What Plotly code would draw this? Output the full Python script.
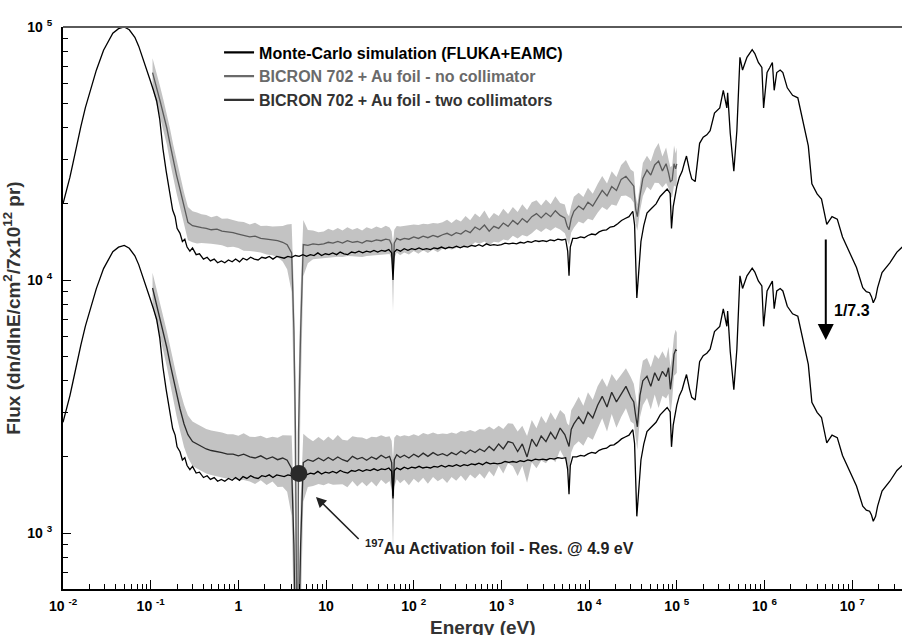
import math
import plotly.graph_objects as go

# ---------------- data ----------------
MC_E = [
    0.01, 0.011, 0.012, 0.013, 0.014, 0.016, 0.018, 0.021, 0.024, 0.029,
    0.033, 0.037, 0.043, 0.05, 0.057, 0.066, 0.073, 0.081, 0.09, 0.098,
    0.107, 0.117, 0.127, 0.138, 0.15, 0.166, 0.178, 0.19, 0.2, 0.216,
    0.23, 0.245, 0.26, 0.28, 0.3, 0.33, 0.36, 0.4, 0.44, 0.48,
    0.53, 0.58, 0.64, 0.7, 0.77, 0.85, 0.93, 1.03, 1.13, 1.25,
    1.38, 1.52, 1.68, 1.85, 2.04, 2.25, 2.48, 2.74, 3.02, 3.33,
    3.67, 4.05, 4.47, 4.93, 5.44, 6.0, 6.62, 7.3, 8.06, 8.89,
    9.81, 10.8, 11.9, 13.2, 14.5, 16.0, 17.7, 19.5, 21.5, 23.7,
    26.2, 28.9, 31.9, 35.2, 38.8, 42.8, 47.2, 52, 56, 58,
    60, 64, 70.5, 77.8, 85.8, 94.6, 104, 115, 127, 140,
    155, 170, 188, 207, 229, 252, 278, 307, 339, 374,
    412, 455, 502, 553, 610, 673, 743, 820, 904, 1000,
    1100, 1220, 1350, 1490, 1640, 1810, 2000, 2200, 2430, 2680,
    2960, 3270, 3600, 4000, 4400, 4900, 5400, 5700, 5900, 6100,
    6500, 7200, 8000, 8800, 9700, 10700, 11800, 13000, 14300, 15800,
    17400, 19200, 21200, 23400, 25800, 28500, 31500, 33000, 35000, 37000,
    39000, 42000, 45700, 50000, 53700, 58000, 64600, 70000, 77600, 84000,
    87000, 91000, 100000, 107000, 115000, 122000, 129000, 140000, 148000, 162000,
    182000, 200000, 220000, 240000, 269000, 309000, 339000, 372000, 380000, 407000,
    447000, 484000, 525000, 562000, 631000, 724000, 776000, 851000, 933000, 977000,
    1.07e6, 1.15e6, 1.23e6, 1.29e6, 1.38e6, 1.51e6, 1.62e6, 1.82e6, 2.09e6, 2.4e6,
    2.75e6, 3.16e6, 3.47e6, 3.98e6, 4.47e6, 5.13e6, 5.89e6, 6.76e6, 7.76e6, 9.33e6,
    1.12e7, 1.32e7, 1.45e7, 1.58e7, 1.66e7, 1.74e7, 1.85e7, 1.95e7, 2.19e7, 2.69e7,
    3.24e7, 3.72e7,
]
MC_FLUX = [
    20000, 22500, 25500, 29000, 33000, 40500, 48000, 57000, 67500, 81000,
    88000, 94500, 98500, 100000, 97500, 91000, 84000, 76000, 68500, 62000,
    56500, 51000, 43000, 33000, 27000, 21400, 18900, 17800, 16000, 15300,
    14200, 14500, 13500, 13000, 13400, 12600, 12700, 12100, 12300, 11900,
    12100, 11700, 11900, 11700, 12000, 11800, 12100, 11800, 12200, 12000,
    12300, 12100, 12000, 12300, 12200, 12400, 12100, 12400, 12300, 12200,
    12400, 12300, 12500, 12400, 12600, 12400, 12600, 12500, 12800, 12500,
    12700, 12600, 12800, 12600, 12900, 12700, 12600, 12900, 12800, 13000,
    12800, 13000, 12900, 13100, 12900, 13100, 13000, 13200, 12800, 10000,
    12900, 13200, 13000, 13300, 13100, 13300, 13200, 13400, 13200, 13300,
    13200, 13400, 13300, 13500, 13300, 13500, 13400, 13600, 13400, 13600,
    13500, 13700, 13600, 13800, 13600, 13900, 13700, 13800, 13700, 13800,
    14000, 13900, 14000, 13900, 14100, 14000, 14200, 14100, 14300, 14200,
    14300, 14200, 14400, 14300, 14500, 14400, 14500, 13000, 10400, 13500,
    14600, 14600, 14800, 14700, 15000, 15200, 15100, 15500, 15700, 15800,
    16200, 16300, 16700, 17200, 17500, 17800, 18700, 16500, 8500, 11500,
    14200, 16400, 18400, 19000, 19500, 20000, 21400, 22000, 22900, 22000,
    16000, 19500, 23400, 25500, 26900, 29000, 30900, 27000, 25100, 24500,
    34700, 36700, 37500, 38900, 45700, 47900, 56200, 47900, 55000, 38000,
    26900, 38900, 75900, 67600, 75900, 81300, 78500, 72400, 69200, 47900,
    66100, 69200, 72400, 56200, 66100, 67600, 66100, 57500, 53700, 52500,
    42700, 33900, 24000, 21900, 20900, 16600, 17800, 17400, 14800, 12900,
    11200, 9330, 9000, 8910, 8600, 8130, 8500, 9330, 10700, 11700,
    12900, 13500,
]
SCALE = 7.3   # lower group = upper group / 7.3

MEAS_E = [
    0.105, 0.115, 0.128, 0.14, 0.153, 0.166, 0.18, 0.197, 0.216, 0.24,
    0.266, 0.3, 0.337, 0.38, 0.43, 0.49, 0.57, 0.65, 0.75, 0.87,
    1.0, 1.15, 1.35, 1.55, 1.8, 2.1, 2.45, 2.8, 3.2, 3.6,
    4.05, 4.3, 4.48, 4.72, 4.85, 5.13, 5.5, 6.2, 7.1, 8.2,
    9.4, 10.6, 12, 13.6, 15.4, 17.5, 20, 22.7, 25.8, 29,
    33, 37.5, 42.5, 48, 53, 56, 58, 60, 64, 70,
    78, 88, 100, 113, 128, 145, 166, 188, 213, 240,
    270, 305, 345, 390, 440, 500, 565, 640, 725, 820,
    930, 1050, 1190, 1350, 1530, 1730, 1960, 2220, 2510, 2840,
    3220, 3640, 4120, 4670, 5280, 5600, 5900, 6250, 6700, 7600,
    8600, 9700, 11000, 12500, 14100, 16000, 18100, 20500, 23200, 26300,
    29800, 32300, 34000, 35500, 38000, 41000, 45700, 50500, 56000, 62000,
    68500, 75500, 80500, 84500, 88500, 93000, 97000, 100000,
]
NOCOLL = [
    66000, 59000, 51000, 45000, 39800, 34500, 30000, 26000, 22800, 19300,
    16900, 16400, 16200, 16100, 16000, 15800, 15900, 15600, 15500, 15400,
    15200, 15000, 14800, 14900, 14600, 14500, 14400, 14300, 14100, 13800,
    12800, 6300, 2500, 150, 2500, 6300, 13800, 13700, 13900, 13800,
    13900, 14100, 14000, 14200, 14000, 14300, 14100, 14200, 14000, 14300,
    14200, 14400, 14300, 14500, 14400, 13800, 10700, 14000, 14600, 14400,
    14600, 14500, 14800, 14600, 14900, 14700, 15000, 14800, 15100, 15300,
    15000, 15400, 15200, 15700, 15400, 16200, 15800, 16500, 15600, 16300,
    16000, 16800, 16300, 17200, 16600, 17500, 16900, 17800, 18300, 17600,
    18400, 17800, 18800, 18000, 17600, 16400, 15800, 17500, 18700, 19600,
    19000, 20300, 19600, 21200, 22600, 21500, 23400, 22600, 25000, 25700,
    24200, 23500, 19000, 17800, 21500, 25200, 27200, 26000, 28500, 29500,
    27000, 28800, 26500, 24500, 24800, 28800, 27500, 28800,
]
NOCOLL_ERR = [
    0.14, 0.14, 0.14, 0.14, 0.14, 0.15, 0.15, 0.15, 0.15, 0.15,
    0.15, 0.14, 0.14, 0.13, 0.13, 0.12, 0.13, 0.12, 0.13, 0.12,
    0.12, 0.13, 0.12, 0.13, 0.12, 0.13, 0.13, 0.14, 0.16, 0.2,
    0.3, 0.45, 0.6, 0.6, 0.6, 0.45, 0.25, 0.15, 0.13, 0.12,
    0.12, 0.13, 0.12, 0.13, 0.12, 0.13, 0.12, 0.13, 0.12, 0.13,
    0.12, 0.13, 0.12, 0.13, 0.12, 0.13, 0.3, 0.13, 0.12, 0.13,
    0.12, 0.13, 0.12, 0.13, 0.12, 0.13, 0.12, 0.13, 0.12, 0.13,
    0.12, 0.13, 0.12, 0.14, 0.12, 0.13, 0.12, 0.14, 0.12, 0.13,
    0.12, 0.14, 0.12, 0.13, 0.12, 0.14, 0.12, 0.14, 0.13, 0.12,
    0.13, 0.12, 0.14, 0.12, 0.13, 0.12, 0.13, 0.12, 0.14, 0.13,
    0.12, 0.14, 0.12, 0.13, 0.14, 0.12, 0.15, 0.13, 0.14, 0.16,
    0.13, 0.14, 0.13, 0.12, 0.13, 0.15, 0.14, 0.13, 0.15, 0.18,
    0.14, 0.16, 0.13, 0.14, 0.14, 0.18, 0.15, 0.16,
]
TWOCOLL = [
    9300, 8200, 7000, 6200, 5400, 4700, 4100, 3550, 3100, 2700,
    2450, 2300, 2250, 2200, 2150, 2120, 2100, 2080, 2050, 2050,
    2020, 2050, 2000, 1980, 2020, 1960, 2000, 1950, 1980, 1940,
    1800, 900, 330, 30, 330, 900, 1900, 1950, 1920, 1980,
    1930, 1990, 1940, 2000, 1950, 1920, 2010, 1960, 1990, 1940,
    2000, 1960, 2030, 1980, 2010, 1900, 1400, 1950, 2040, 1990,
    2030, 1980, 2050, 2000, 2070, 2010, 2080, 2030, 2060, 2020,
    2080, 2040, 2110, 2060, 2130, 2080, 2150, 2100, 2200, 2120,
    2250, 2150, 2300, 2270, 2100, 2250, 2000, 2350, 2200, 2420,
    2300, 2500, 2350, 2600, 2450, 2300, 2200, 2570, 2700, 2880,
    2700, 3000, 2850, 3200, 3470, 3150, 3600, 3300, 3550, 3800,
    3450, 3300, 2900, 2630, 3500, 4000, 4170, 3800, 4300, 4000,
    4360, 4150, 4500, 3700, 4200, 5100, 5300, 5250,
]
TWOCOLL_ERR = [
    0.15, 0.15, 0.15, 0.16, 0.16, 0.17, 0.17, 0.18, 0.18, 0.19,
    0.19, 0.2, 0.2, 0.2, 0.2, 0.2, 0.2, 0.2, 0.2, 0.2,
    0.2, 0.21, 0.2, 0.21, 0.2, 0.21, 0.2, 0.22, 0.23, 0.25,
    0.35, 0.5, 0.6, 0.6, 0.6, 0.5, 0.3, 0.22, 0.2, 0.21,
    0.2, 0.21, 0.2, 0.22, 0.2, 0.21, 0.2, 0.22, 0.2, 0.21,
    0.2, 0.22, 0.2, 0.21, 0.2, 0.22, 0.4, 0.22, 0.2, 0.21,
    0.2, 0.22, 0.2, 0.21, 0.2, 0.22, 0.2, 0.21, 0.2, 0.22,
    0.2, 0.21, 0.2, 0.22, 0.2, 0.21, 0.2, 0.22, 0.2, 0.21,
    0.18, 0.2, 0.18, 0.19, 0.2, 0.18, 0.21, 0.19, 0.18, 0.2,
    0.18, 0.2, 0.19, 0.18, 0.2, 0.18, 0.21, 0.19, 0.18, 0.2,
    0.18, 0.2, 0.18, 0.19, 0.18, 0.2, 0.18, 0.21, 0.19, 0.18,
    0.2, 0.18, 0.2, 0.19, 0.18, 0.2, 0.18, 0.19, 0.18, 0.22,
    0.2, 0.18, 0.21, 0.22, 0.2, 0.18, 0.2, 0.18,
]

RES_E = 4.9          # Au resonance marker
RES_FLUX = 1720

X_TICKS = [0.01, 0.1, 1, 10, 100, 1e3, 1e4, 1e5, 1e6, 1e7]
X_TICKTEXT = ["10 <sup>-2</sup>", "10 <sup>-1</sup>", "1", "10", "10 <sup>2</sup>",
              "10 <sup>3</sup>", "10 <sup>4</sup>", "10 <sup>5</sup>", "10 <sup>6</sup>",
              "10 <sup>7</sup>"]
Y_TICKS = [1e3, 1e4, 1e5]
Y_TICKTEXT = ["10 <sup>3</sup>", "10 <sup>4</sup>", "10 <sup>5</sup>"]

LEGEND_NAMES = ["Monte-Carlo simulation (FLUKA+EAMC)",
                "BICRON 702 + Au foil - no collimator",
                "BICRON 702 + Au foil - two collimators"]
X_TITLE = "Energy (eV)"
Y_TITLE = "Flux (dn/dlnE/cm<sup>2</sup>/7x10<sup>12</sup> pr)"

# ---------------- figure ----------------
FONT = "Liberation Sans, Arial, Helvetica, sans-serif"
BAND = "#c3c3c3"
C_NOCOLL = "#5a5a5a"
C_TWOCOLL = "#2b2b2b"

fig = go.Figure()


def band(values, errs):
    hi = [v * (1 + e) for v, e in zip(values, errs)]
    lo = [v * (1 - e) for v, e in zip(values, errs)]
    return hi, lo


for vals, errs in ((NOCOLL, NOCOLL_ERR), (TWOCOLL, TWOCOLL_ERR)):
    hi, lo = band(vals, errs)
    fig.add_trace(go.Scatter(x=MEAS_E, y=hi, mode="lines", line=dict(width=0, color=BAND),
                             showlegend=False, hoverinfo="skip"))
    fig.add_trace(go.Scatter(x=MEAS_E, y=lo, mode="lines", line=dict(width=0, color=BAND),
                             fill="tonexty", fillcolor=BAND, showlegend=False, hoverinfo="skip"))

fig.add_trace(go.Scatter(x=MEAS_E, y=NOCOLL, mode="lines",
                         line=dict(color=C_NOCOLL, width=1.3), showlegend=False))
fig.add_trace(go.Scatter(x=MEAS_E, y=TWOCOLL, mode="lines",
                         line=dict(color=C_TWOCOLL, width=1.3), showlegend=False))

mc_low = [v / SCALE for v in MC_FLUX]
fig.add_trace(go.Scatter(x=MC_E, y=MC_FLUX, mode="lines",
                         line=dict(color="black", width=1.3), showlegend=False))
fig.add_trace(go.Scatter(x=MC_E, y=mc_low, mode="lines",
                         line=dict(color="black", width=1.3), showlegend=False))

fig.add_trace(go.Scatter(x=[RES_E], y=[RES_FLUX], mode="markers",
                         marker=dict(size=17, color="#2a2a2a"), showlegend=False))

# legend-only entries
leg_colors = ["#000000", "#6a6a6a", "#333333"]
for name, col in zip(LEGEND_NAMES, leg_colors):
    fig.add_trace(go.Scatter(x=[None], y=[None], mode="lines",
                             line=dict(color=col, width=2.2),
                             name=f"<span style='color:{col}'><b>{name}</b></span>"))

fig.update_layout(
    width=902, height=635,
    margin=dict(l=63, r=0, t=27, b=46),
    paper_bgcolor="white", plot_bgcolor="white",
    font=dict(family=FONT, color="black"),
    showlegend=True,
    legend=dict(x=0.186, y=0.985, xanchor="left", yanchor="top", traceorder="normal",
                bgcolor="rgba(0,0,0,0)", font=dict(size=16, family=FONT),
                tracegroupgap=0, itemwidth=30),
)

fig.update_xaxes(
    type="log", range=[-2, math.log10(3.7e7)],
    tickmode="array", tickvals=X_TICKS, ticktext=X_TICKTEXT,
    ticks="inside", ticklen=9, tickwidth=1, tickcolor="black",
    minor=dict(ticks="inside", ticklen=5, tickwidth=1, tickcolor="black", dtick="D1", showgrid=False),
    showline=True, linecolor="black", linewidth=2,
    showgrid=False, zeroline=False,
    tickfont=dict(size=14, family=FONT, color="black", weight="bold"),
    ticklabelstandoff=3,
    automargin=False,
)
fig.update_yaxes(
    type="log", range=[2.779, 5],
    tickmode="array", tickvals=Y_TICKS, ticktext=Y_TICKTEXT,
    ticks="inside", ticklen=8, tickwidth=1, tickcolor="black",
    minor=dict(ticks="inside", ticklen=5, tickwidth=1, tickcolor="black", dtick="D1", showgrid=False),
    showline=True, linecolor="black", linewidth=2,
    showgrid=False, zeroline=False,
    tickfont=dict(size=14, family=FONT, color="black", weight="bold"),
    ticklabelstandoff=6,
    title=dict(text=Y_TITLE, standoff=8,
               font=dict(size=19, family=FONT, color="#333333", weight="bold")),
    automargin=False,
)

# x-axis title (as annotation so it can sit at the very bottom edge like the reference)
fig.add_annotation(x=0.5, y=-0.047, xref="paper", yref="paper", xanchor="center", yanchor="top",
                   text=f"<b>{X_TITLE}</b>", showarrow=False,
                   font=dict(size=19, family=FONT, color="#333333"))

# top frame line
fig.add_shape(type="line", xref="paper", yref="paper", x0=0, x1=1, y0=1, y1=1,
              line=dict(color="#5a5a5a", width=2))

# 1/7.3 arrow
ARROW_E = 5.0e6
fig.add_annotation(x=math.log10(ARROW_E), y=math.log10(5800), ax=math.log10(ARROW_E), ay=math.log10(14650),
                   xref="x", yref="y", axref="x", ayref="y", text="", showarrow=True,
                   arrowhead=2, arrowsize=1.6, arrowwidth=2, arrowcolor="black", standoff=0)
fig.add_annotation(x=math.log10(5.9e6), y=math.log10(7600), xref="x", yref="y",
                   text="<b>1/7.3</b>", showarrow=False, xanchor="left",
                   font=dict(size=16, family=FONT, color="black"))

# Au resonance annotation
fig.add_annotation(x=math.log10(7.67), y=math.log10(1390), ax=math.log10(24.5), ay=math.log10(935),
                   xref="x", yref="y", axref="x", ayref="y", text="", showarrow=True,
                   arrowhead=2, arrowsize=1.3, arrowwidth=1.6, arrowcolor="#222222", standoff=0)
fig.add_annotation(x=math.log10(26.3), y=math.log10(885), xref="x", yref="y",
                   text="<b><sup>197</sup>Au Activation foil - Res. @ 4.9 eV</b>",
                   showarrow=False, xanchor="left",
                   font=dict(size=16, family=FONT, color="#222222"))

fig.write_html("out.html", config={"displayModeBar": False},
               post_script="document.body.style.margin='0px';")
